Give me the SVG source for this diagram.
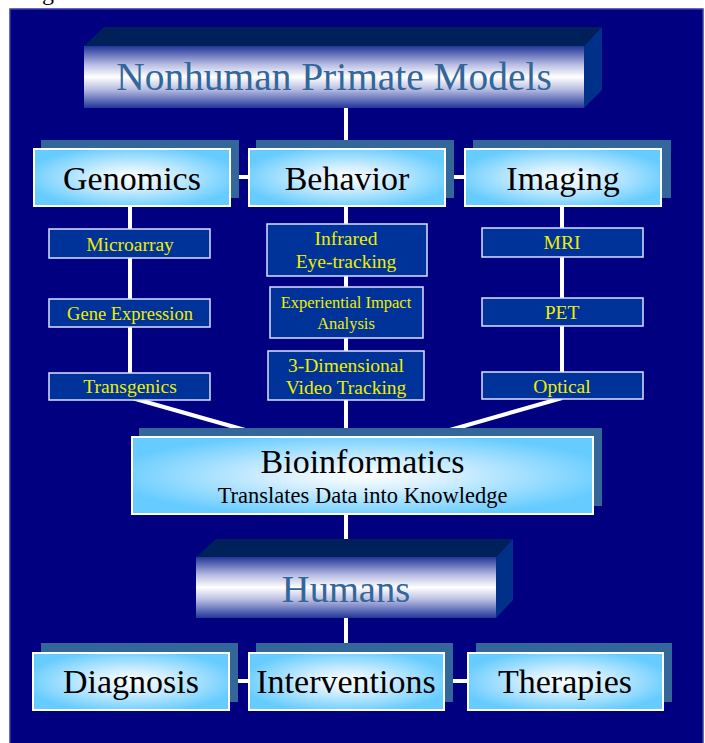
<svg xmlns="http://www.w3.org/2000/svg" width="705" height="743" viewBox="0 0 705 743">
<style>
  .serif { font-family: "Liberation Serif", "Times New Roman", serif; }
  .big { font-size: 34px; fill: #000000; text-anchor: middle; }
  .title { fill: #336699; text-anchor: middle; }
  .small { font-size: 19.5px; fill: #eeee00; text-anchor: middle; }
  .shadow { fill: #336699; }
  .front { fill: url(#boxGrad); stroke: #ffffff; stroke-width: 2; }
  .sbox { fill: #003399; stroke: #dde0ff; stroke-width: 1.5; }
  .top3d { fill: #00205a; }
  .side3d { fill: #003088; }
  .face3d { fill: url(#faceGrad); }
  .conn { stroke: #ffffff; stroke-width: 4; fill: none; }
</style>
<defs>
  <radialGradient id="boxGrad" cx="0.5" cy="0.5" r="0.55">
    <stop offset="0" stop-color="#ffffff"/>
    <stop offset="0.35" stop-color="#d4efff"/>
    <stop offset="1" stop-color="#66ccff"/>
  </radialGradient>
  <linearGradient id="faceGrad" x1="0" y1="0" x2="0" y2="1">
    <stop offset="0" stop-color="#22369a"/>
    <stop offset="0.3" stop-color="#b8bde2"/>
    <stop offset="0.5" stop-color="#ffffff"/>
    <stop offset="0.7" stop-color="#b8bde2"/>
    <stop offset="1" stop-color="#22369a"/>
  </linearGradient>
</defs>

<rect width="705" height="743" fill="#ffffff"/>
<text class="serif" x="42" y="0" font-size="24" fill="#000000">g</text>
<rect x="10" y="9" width="693" height="740" fill="#000080" stroke="#3a3aa6" stroke-width="1.5"/>

<g id="connectors">
  <line class="conn" x1="346" y1="108" x2="346" y2="140"/>
  <line class="conn" x1="229" y1="177" x2="250" y2="177"/>
  <line class="conn" x1="444" y1="177" x2="466" y2="177"/>
  <line class="conn" x1="130" y1="206" x2="130" y2="398"/>
  <line class="conn" x1="346" y1="206" x2="346" y2="437"/>
  <line class="conn" x1="562" y1="206" x2="562" y2="398"/>
  <line class="conn" x1="132" y1="398" x2="245" y2="430"/>
  <line class="conn" x1="562" y1="398" x2="450" y2="430"/>
  <line class="conn" x1="346" y1="514" x2="346" y2="541"/>
  <line class="conn" x1="346" y1="618" x2="346" y2="644"/>
  <line class="conn" x1="228" y1="681" x2="250" y2="681"/>
  <line class="conn" x1="443" y1="681" x2="469" y2="681"/>
</g>

<g id="nonhuman">
  <polygon class="top3d" points="84,46 104,27 602,27 584,46"/>
  <polygon class="side3d" points="584,46 602,27 602,90 584,108"/>
  <rect class="face3d" x="84" y="46" width="500" height="62"/>
  <text class="serif title" x="334" y="90" font-size="39.4">Nonhuman Primate Models</text>
</g>

<g id="genomics">
  <rect class="shadow" x="41" y="140" width="198" height="58"/>
  <rect class="front" x="34" y="149" width="196" height="57"/>
  <text class="serif big" x="132" y="190">Genomics</text>
</g>
<g id="behavior">
  <rect class="shadow" x="256" y="140" width="198" height="58"/>
  <rect class="front" x="249" y="149" width="196" height="57"/>
  <text class="serif big" x="347" y="190">Behavior</text>
</g>
<g id="imaging">
  <rect class="shadow" x="473" y="140" width="198" height="58"/>
  <rect class="front" x="465" y="149" width="196" height="57"/>
  <text class="serif big" x="563" y="190">Imaging</text>
</g>

<g id="microarray">
  <rect class="sbox" x="49" y="229" width="161" height="29"/>
  <text class="serif small" x="130" y="250.5" font-size="19">Microarray</text>
</g>
<g id="gene-expression">
  <rect class="sbox" x="49" y="299" width="161" height="28"/>
  <text class="serif small" x="130" y="320" style="font-size:18.5px">Gene Expression</text>
</g>
<g id="transgenics">
  <rect class="sbox" x="49" y="373" width="161" height="27"/>
  <text class="serif small" x="130" y="393">Transgenics</text>
</g>

<g id="infrared">
  <rect class="sbox" x="267" y="224" width="160" height="52"/>
  <text class="serif small" x="346" y="245">Infrared</text>
  <text class="serif small" x="346" y="268">Eye-tracking</text>
</g>
<g id="experiential">
  <rect class="sbox" x="270" y="287" width="153" height="51"/>
  <text class="serif small" x="346" y="308" style="font-size:16.5px">Experiential Impact</text>
  <text class="serif small" x="346" y="329" style="font-size:16.5px">Analysis</text>
</g>
<g id="video-tracking">
  <rect class="sbox" x="268" y="351" width="156" height="49"/>
  <text class="serif small" x="346" y="372">3-Dimensional</text>
  <text class="serif small" x="346" y="394">Video Tracking</text>
</g>

<g id="mri">
  <rect class="sbox" x="482" y="228" width="161" height="29"/>
  <text class="serif small" x="562" y="249">MRI</text>
</g>
<g id="pet">
  <rect class="sbox" x="482" y="298" width="161" height="28"/>
  <text class="serif small" x="562" y="319">PET</text>
</g>
<g id="optical">
  <rect class="sbox" x="482" y="372" width="161" height="27"/>
  <text class="serif small" x="562" y="393">Optical</text>
</g>

<g id="bioinformatics">
  <rect class="shadow" x="139" y="428" width="463" height="78"/>
  <rect class="front" x="132" y="437" width="461" height="77"/>
  <text class="serif big" x="362.5" y="473">Bioinformatics</text>
  <text class="serif" x="362.5" y="503" font-size="22.5" fill="#000000" text-anchor="middle">Translates Data into Knowledge</text>
</g>

<g id="humans">
  <polygon class="top3d" points="196,557 216,539 513,539 496,557"/>
  <polygon class="side3d" points="496,557 513,539 513,600 496,618"/>
  <rect class="face3d" x="196" y="557" width="300" height="61"/>
  <text class="serif title" x="346" y="602" font-size="38.5">Humans</text>
</g>

<g id="diagnosis">
  <rect class="shadow" x="41" y="643" width="197" height="59"/>
  <rect class="front" x="33" y="653" width="196" height="57"/>
  <text class="serif big" x="131" y="693">Diagnosis</text>
</g>
<g id="interventions">
  <rect class="shadow" x="256" y="643" width="197" height="59"/>
  <rect class="front" x="249" y="653" width="195" height="57"/>
  <text class="serif big" x="346" y="693">Interventions</text>
</g>
<g id="therapies">
  <rect class="shadow" x="476" y="643" width="196" height="59"/>
  <rect class="front" x="468" y="653" width="195" height="57"/>
  <text class="serif big" x="565" y="693">Therapies</text>
</g>
</svg>
